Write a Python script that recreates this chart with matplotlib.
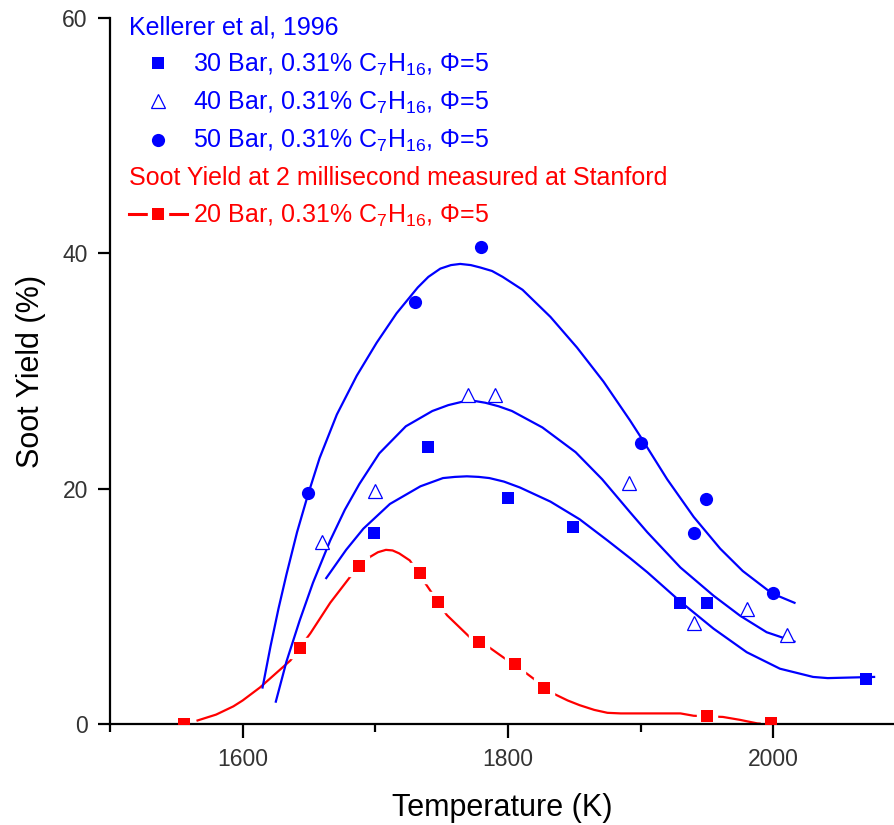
import matplotlib
matplotlib.use("Agg")
import matplotlib.pyplot as plt
from matplotlib.lines import Line2D
from matplotlib.legend_handler import HandlerTuple

plt.rcParams['font.family'] = ['Liberation Sans', 'DejaVu Sans']
plt.rcParams['mathtext.fontset'] = 'custom'
plt.rcParams['mathtext.rm'] = 'Liberation Sans'
plt.rcParams['mathtext.it'] = 'Liberation Sans'
plt.rcParams['mathtext.default'] = 'regular'

# ---------------- data ----------------
t30 = [1699, 1740, 1800, 1849, 1930, 1950, 2070]
y30 = [16.2, 23.5, 19.2, 16.7, 10.3, 10.3, 3.8]

t40 = [1660, 1700, 1770, 1790, 1891, 1940, 1980, 2010]
y40 = [15.5, 19.8, 28.0, 28.0, 20.5, 8.6, 9.8, 7.6]

t50 = [1649, 1730, 1780, 1900, 1949, 1940, 2000]
y50 = [19.6, 35.9, 40.5, 23.9, 19.1, 16.2, 11.1]

t20 = [1556, 1643, 1688, 1734, 1747, 1778, 1805, 1827, 1950, 1998]
y20 = [0.0, 6.5, 13.4, 12.8, 10.4, 7.0, 5.1, 3.1, 0.7, 0.1]

# fitted curves
c50_t = [1615, 1621, 1627, 1633, 1641, 1649, 1658, 1671, 1686, 1701, 1716,
         1732, 1740, 1749, 1757, 1764, 1772, 1779, 1788, 1796, 1811, 1832, 1852,
         1872, 1892, 1900, 1920, 1940, 1960, 1977, 1999, 2016]
c50_y = [3.1, 6.6, 9.8, 12.7, 16.3, 19.4, 22.6, 26.3, 29.6, 32.4, 34.9,
         37.1, 38.0, 38.7, 39.0, 39.1, 39.0, 38.8, 38.5, 38.0, 36.9, 34.6, 32.0,
         29.1, 25.8, 24.4, 20.8, 17.6, 14.9, 13.0, 11.1, 10.3]

c40_t = [1625, 1633, 1643, 1653, 1666, 1677, 1688, 1703, 1723, 1743, 1755, 1766,
         1775, 1783, 1793, 1803, 1826, 1851, 1871, 1892, 1905, 1930, 1955, 1975,
         1995, 2016]
c40_y = [1.9, 5.3, 8.8, 12.0, 15.6, 18.2, 20.4, 23.0, 25.3, 26.6, 27.1, 27.4,
         27.45, 27.3, 27.0, 26.6, 25.2, 23.1, 20.8, 18.0, 16.3, 13.3, 10.9, 9.2,
         7.8, 7.0]

c30_t = [1663, 1678, 1691, 1711, 1734, 1751, 1760, 1769, 1778, 1786, 1797, 1809,
         1832, 1854, 1875, 1892, 1905, 1930, 1955, 1980, 2005, 2030, 2041, 2076]
c30_y = [12.4, 14.8, 16.6, 18.7, 20.2, 20.9, 21.0, 21.05, 21.0, 20.9, 20.6, 20.1,
         18.9, 17.4, 15.6, 14.1, 12.9, 10.4, 8.1, 6.1, 4.7, 4.0, 3.9, 4.0]

c20_t = [1566, 1580, 1593, 1600, 1613, 1628, 1636, 1651, 1666, 1681, 1696, 1702,
         1708, 1713, 1718, 1726, 1754, 1771, 1786, 1796, 1814, 1834, 1845, 1854,
         1865, 1875, 1885, 1930, 1940, 1962, 1975, 1988, 1995]
c20_y = [0.3, 0.8, 1.5, 2.0, 3.1, 4.6, 5.4, 7.7, 10.3, 12.5, 14.2, 14.6,
         14.8, 14.75, 14.5, 13.9, 9.25, 7.4, 6.5, 5.7, 4.3, 2.6, 2.0, 1.6,
         1.2, 0.95, 0.9, 0.9, 0.7, 0.6, 0.35, 0.05, 0.0]

xticks_major = [1600, 1800, 2000]
xticks_minor = [1500, 1700, 1900]
yticks = [0, 20, 40, 60]

BLUE = '#0000FF'
RED = '#FF0000'
formula = r"0.31% C$_7$H$_{16}$, Φ=5"
labels = ["Kellerer et al, 1996",
          "30 Bar, " + formula,
          "40 Bar, " + formula,
          "50 Bar, " + formula,
          "Soot Yield at 2 millisecond measured at Stanford",
          "20 Bar, " + formula]

# ---------------- figure ----------------
fig = plt.figure(figsize=(8.94, 8.25), dpi=100)
ax = fig.add_axes([110/894, 101/825, 784/894, 706/825])

ms = 9
ax.plot(c20_t, c20_y, color=RED, lw=1.6, zorder=1, solid_joinstyle='round')
ax.plot(t20, y20, ls='none', marker='s', ms=ms + 6, mfc='white', mec='white', zorder=2)
for ct, cy in [(c50_t, c50_y), (c40_t, c40_y), (c30_t, c30_y)]:
    ax.plot(ct, cy, color=BLUE, lw=1.6, zorder=3, solid_joinstyle='round')
ax.plot(t20, y20, ls='none', marker='s', ms=ms, mfc=RED, mec=RED, mew=0, zorder=4)
ax.plot(t30, y30, ls='none', marker='s', ms=ms, mfc=BLUE, mec=BLUE, mew=0, zorder=5)
ax.plot(t40, y40, ls='none', marker='^', ms=10.5, mfc='white', mec=BLUE, mew=0.9, zorder=5)
ax.plot(t50, y50, ls='none', marker='o', ms=ms + 0.5, mfc=BLUE, mec=BLUE, mew=0, zorder=5)

ax.set_xlim(1500, 2091)
ax.set_ylim(0, 60)
ax.set_xticks(xticks_major)
ax.set_xticks(xticks_minor, minor=True)
ax.set_yticks(yticks)
for s in ['top', 'right']:
    ax.spines[s].set_visible(False)
for s in ['left', 'bottom']:
    ax.spines[s].set_linewidth(1.6)
ax.tick_params(axis='x', which='major', length=10, width=1.6, pad=7,
               labelsize=16.5, labelcolor='#333333')
ax.tick_params(axis='x', which='minor', length=6, width=1.6)
ax.tick_params(axis='y', which='major', length=9, width=1.6, pad=7,
               labelsize=16.5, labelcolor='#333333')
ax.set_xlabel("Temperature (K)", fontsize=22, labelpad=16)
ax.set_ylabel("Soot Yield (%)", fontsize=22, labelpad=12)

# ---------------- legend ----------------
empty = Line2D([], [], ls='none')
h30 = Line2D([], [], ls='none', marker='s', ms=ms, mfc=BLUE, mec=BLUE, mew=0)
h40 = Line2D([], [], ls='none', marker='^', ms=10.5, mfc='white', mec=BLUE, mew=0.9)
h50 = Line2D([], [], ls='none', marker='o', ms=ms + 0.5, mfc=BLUE, mec=BLUE, mew=0)
hr_line = Line2D([], [], color=RED, lw=2.2)
hr_halo = Line2D([], [], ls='none', marker='s', ms=ms + 5, mfc='white', mec='white')
hr_mark = Line2D([], [], ls='none', marker='s', ms=ms, mfc=RED, mec=RED, mew=0)

fs = 18
hl = 2.32
htp = 0.24
leg = ax.legend([empty, h30, h40, h50, empty, (hr_line, hr_halo, hr_mark)], labels,
                handler_map={tuple: HandlerTuple(ndivide=1, pad=0)},
                loc='upper left', bbox_to_anchor=(19/784, 1.003), frameon=False,
                fontsize=fs, handlelength=hl, handletextpad=htp, borderpad=0,
                borderaxespad=0, labelspacing=0.48)
colors = [BLUE, BLUE, BLUE, BLUE, RED, RED]
shift = (hl + htp) * fs * fig.dpi / 72.0
for i, (t, c) in enumerate(zip(leg.get_texts(), colors)):
    t.set_color(c)
    if i in (0, 4):
        t.set_x(-shift)

fig.savefig("out.png", dpi=100)
